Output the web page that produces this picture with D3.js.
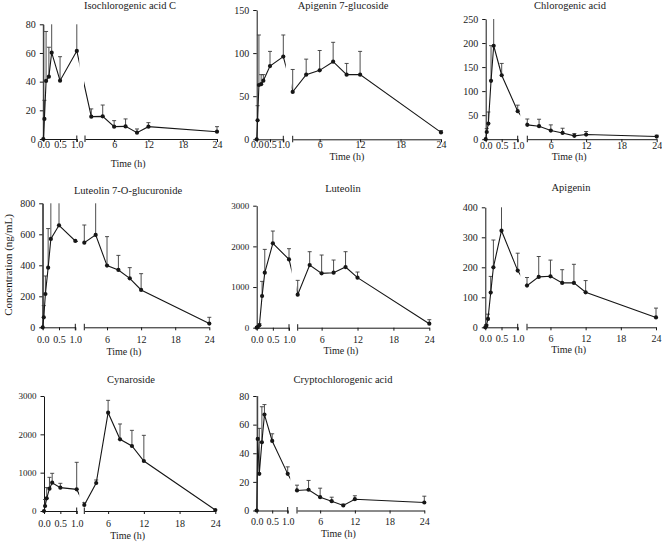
<!DOCTYPE html>
<html><head><meta charset="utf-8">
<script src="https://cdn.jsdelivr.net/npm/d3@7"></script>
<style>
body{margin:0;background:#fff;}
svg{display:block;}
text{font-family:"Liberation Serif","Times New Roman",serif;fill:#1a1a1a;}
</style>
</head><body>
<svg id="chart" width="662" height="543"></svg>
<script>
// ---------------- DATA ----------------
const times = [0, 0.033, 0.083, 0.167, 0.25, 0.5, 1, 2, 4, 6, 8, 10, 12, 24];
const leftTicks = [0, 0.5, 1];
const rightTicks = [6, 12, 18, 24];
const compounds = ["Isochlorogenic acid C", "Apigenin 7-glucoside", "Chlorogenic acid",
  "Luteolin 7-O-glucuronide", "Luteolin", "Apigenin", "Cynaroside", "Cryptochlorogenic acid"];

const iscMean = [0, 14, 40.5, 43.5, 60.2, 40.7, 61.4, 15.6, 15.8, 8.6, 8.8, 4.4, 8.6, 5.1];
const iscSD   = [90, 13, 34.5, 20.5, 40, 16.7, 40, 5.4, 7.9, 4.2, 5.2, 2.6, 2.8, 3.5];
const a7gMean = [0, 22, 63, 64, 68, 85, 96, 55, 75, 80, 90, 75, 75, 8];
const a7gSD   = [0, 17, 58, 11, 7, 17, 25, 26, 18, 23, 22.5, 13, 27, 2];
const chlMean = [0, 15, 32.6, 121.5, 194.4, 133, 58.3, 29.8, 27, 18, 13, 7, 9.7, 5.5];
const chlSD   = [0, 7, 24, 73, 80, 24.6, 12.5, 12.2, 14.5, 11.8, 9.8, 4.8, 6.3, 2.8];
const l7gMean = [0, 64.5, 215, 385, 570, 658, 557, 546, 596, 398, 370, 316, 241, 24];
const l7gSD   = [900, 75.5, 116, 252, 300, 300, 0, 114, 300, 187, 94, 69, 105, 40.5];
const lutMean = [0, 15, 60, 779, 1352, 2074, 1680, 811, 1541, 1336, 1352, 1492, 1230, 98];
const lutSD   = [0, 10, 40, 360, 574, 303, 263, 353, 328, 451, 312, 377, 139, 99];
const apiMean = [0, 5.5, 27.8, 115.6, 200, 322, 189, 139, 168, 170, 148, 148, 116.7, 33];
const apiSD   = [0, 4, 16, 54, 91, 100, 58, 27, 68, 54, 44, 62, 39, 31];
const cynMean = [0, 130, 330, 582, 739, 609, 565, 157, 730, 2565, 1870, 1696, 1304, 26];
const cynSD   = [0, 170, 280, 296, 244, 113, 705, 60, 79, 322, 400, 408, 670, 0];
const cryMean = [0, 50, 25.6, 47.7, 67, 48.6, 25.6, 14, 14.5, 9.3, 6.5, 3.5, 7.9, 5.6];
const crySD   = [0, 40, 31.8, 24.8, 7, 5, 4.9, 3.7, 6.5, 6.3, 2.8, 1, 2.4, 4.4];

const yTicks = [[0,20,40,60,80],[0,50,100,150],[0,50,100,150,200,250],[0,200,400,600,800],
  [0,1000,2000,3000],[0,100,200,300,400],[0,1000,2000,3000],[0,20,40,60,80]];

const means = [iscMean, a7gMean, chlMean, l7gMean, lutMean, apiMean, cynMean, cryMean];
const sds = [iscSD, a7gSD, chlSD, l7gSD, lutSD, apiSD, cynSD, crySD];

// ---------------- LAYOUT ----------------
const layout = [
  {x0:43.3, x1:76.8, rs:85,    rsT:0.9, x24:217,   y0:139,   yT:24.3,  tx:130, ty:9,   lab:144,   tim:163,   fs:10},
  {x0:256.7,x1:283.3,rs:292.7, rsT:2,   x24:441,   y0:139.3, yT:10,    tx:343, ty:9,   lab:145,   tim:156.7, fs:10},
  {x0:485.7,x1:517.7,rs:527.3, rsT:2,   x24:656.7, y0:139.2, yT:19,    tx:570, ty:9,   lab:145.5, tim:156.5, fs:10},
  {x0:42.7, x1:75.3, rs:84.3,  rsT:2,   x24:209.3, y0:327.3, yT:203.3, tx:128, ty:194, lab:339.5, tim:351.7, fs:10},
  {x0:256.7,x1:289,  rs:297.7, rsT:2,   x24:429.3, y0:327.7, yT:205.7, tx:343, ty:192, lab:339.3, tim:350,   fs:9},
  {x0:485.3,x1:517.7,rs:527,   rsT:2,   x24:656,   y0:327.3, yT:207.3, tx:571, ty:191, lab:338.5, tim:349.3, fs:10},
  {x0:44,   x1:76.7, rs:84.3,  rsT:2,   x24:215.3, y0:511,   yT:396,   tx:131, ty:383, lab:523,   tim:535.5, fs:9},
  {x0:256.7,x1:287.7,rs:297,   rsT:2,   x24:424.3, y0:510.5, yT:396,   tx:343, ty:383, lab:521.7, tim:533.3, fs:10}
];

const svg = d3.select("#chart");
const defs = svg.append("defs");
const ink = "#161616";

compounds.forEach((name, i) => {
  const L = layout[i];
  const ymax = yTicks[i][yTicks[i].length - 1];
  const y = d3.scaleLinear().domain([0, ymax]).range([L.y0, L.yT]);
  const xl = d3.scaleLinear().domain([0, 1]).range([L.x0, L.x1]);
  const xr = d3.scaleLinear().domain([L.rsT, 24]).range([L.rs, L.x24]);
  const xf = t => t <= 1 ? xl(t) : xr(t);
  const g = svg.append("g");

  // title
  g.append("text").attr("x", L.tx).attr("y", L.ty).attr("text-anchor", "middle")
    .style("font-size", "10.5px").text(name);

  // y axis
  const ya = g.append("g").attr("transform", `translate(${L.x0},0)`)
    .call(d3.axisLeft(y).tickValues(yTicks[i]).tickSize(3.5).tickSizeOuter(0).tickPadding(4).tickFormat(d3.format("d")));
  ya.selectAll("path, line").attr("stroke", ink).attr("stroke-width", 1);
  ya.selectAll("text").style("font-size", L.fs + "px").style("font-family", "Liberation Serif").attr("fill", ink);

  // x axes
  const styleX = sel => {
    sel.selectAll("path, line").attr("stroke", ink).attr("stroke-width", 1);
    sel.selectAll("text").style("font-size", "10px").style("font-family", "Liberation Serif")
      .attr("fill", ink).attr("y", L.lab - L.y0).attr("dy", "0.35em");
  };
  const xa1 = g.append("g").attr("transform", `translate(0,${L.y0})`)
    .call(d3.axisBottom(xl).tickValues(leftTicks).tickSize(3).tickSizeOuter(0).tickFormat(d3.format(".1f")));
  styleX(xa1);
  const xa2 = g.append("g").attr("transform", `translate(0,${L.y0})`)
    .call(d3.axisBottom(xr).tickValues(rightTicks).tickSize(3).tickSizeOuter(0).tickFormat(d3.format("d")));
  styleX(xa2);
  // break marks
  [L.x1, L.rs].forEach(bx => {
    g.append("line").attr("x1", bx).attr("x2", bx).attr("y1", L.y0 - 3.5).attr("y2", L.y0 + 3)
      .attr("stroke", ink).attr("stroke-width", 1);
  });

  g.append("text").attr("x", (L.x0 + L.x24) / 2 - 2).attr("y", L.tim).attr("dy", "0.35em")
    .attr("text-anchor", "middle").style("font-size", "10px").text("Time (h)");

  const pts = times.map((t, k) => ({t, v: means[i][k], sd: sds[i][k]}));

  // error bars
  pts.forEach(p => {
    if (!(p.sd > 0)) return;
    const top = p.v + p.sd;
    const px = xf(p.t);
    const yt = y(Math.min(top, ymax));
    g.append("line").attr("x1", px).attr("x2", px).attr("y1", y(p.v)).attr("y2", yt)
      .attr("stroke", "#3a3a3a").attr("stroke-width", 0.9);
    if (top <= ymax) {
      g.append("line").attr("x1", px - 2).attr("x2", px + 2).attr("y1", yt).attr("y2", yt)
        .attr("stroke", "#3a3a3a").attr("stroke-width", 0.9);
    }
  });

  // line, clipped to both axis segments
  const line = d3.line().x(d => xf(d.t)).y(d => y(d.v));
  const cl = "clipL" + i, cr = "clipR" + i;
  defs.append("clipPath").attr("id", cl).append("rect")
    .attr("x", L.x0 - 5).attr("y", L.yT - 10).attr("width", L.x1 + 2.5 - (L.x0 - 5)).attr("height", L.y0 - L.yT + 20);
  defs.append("clipPath").attr("id", cr).append("rect")
    .attr("x", L.rs - 1).attr("y", L.yT - 10).attr("width", L.x24 + 6 - (L.rs - 1)).attr("height", L.y0 - L.yT + 20);
  [cl, cr].forEach(c => {
    g.append("path").datum(pts).attr("d", line).attr("fill", "none")
      .attr("stroke", ink).attr("stroke-width", 1.1).attr("clip-path", `url(#${c})`);
  });

  // markers
  g.selectAll("circle.m").data(pts).enter().append("circle")
    .attr("cx", d => xf(d.t)).attr("cy", d => y(d.v)).attr("r", 2.1).attr("fill", ink);
});

// shared y label
svg.append("text").attr("transform", "translate(8,265) rotate(-90)").attr("text-anchor", "middle")
  .attr("dy", "0.35em").style("font-size", "11px").text("Concentration (ng/mL)");
</script>
</body></html>
